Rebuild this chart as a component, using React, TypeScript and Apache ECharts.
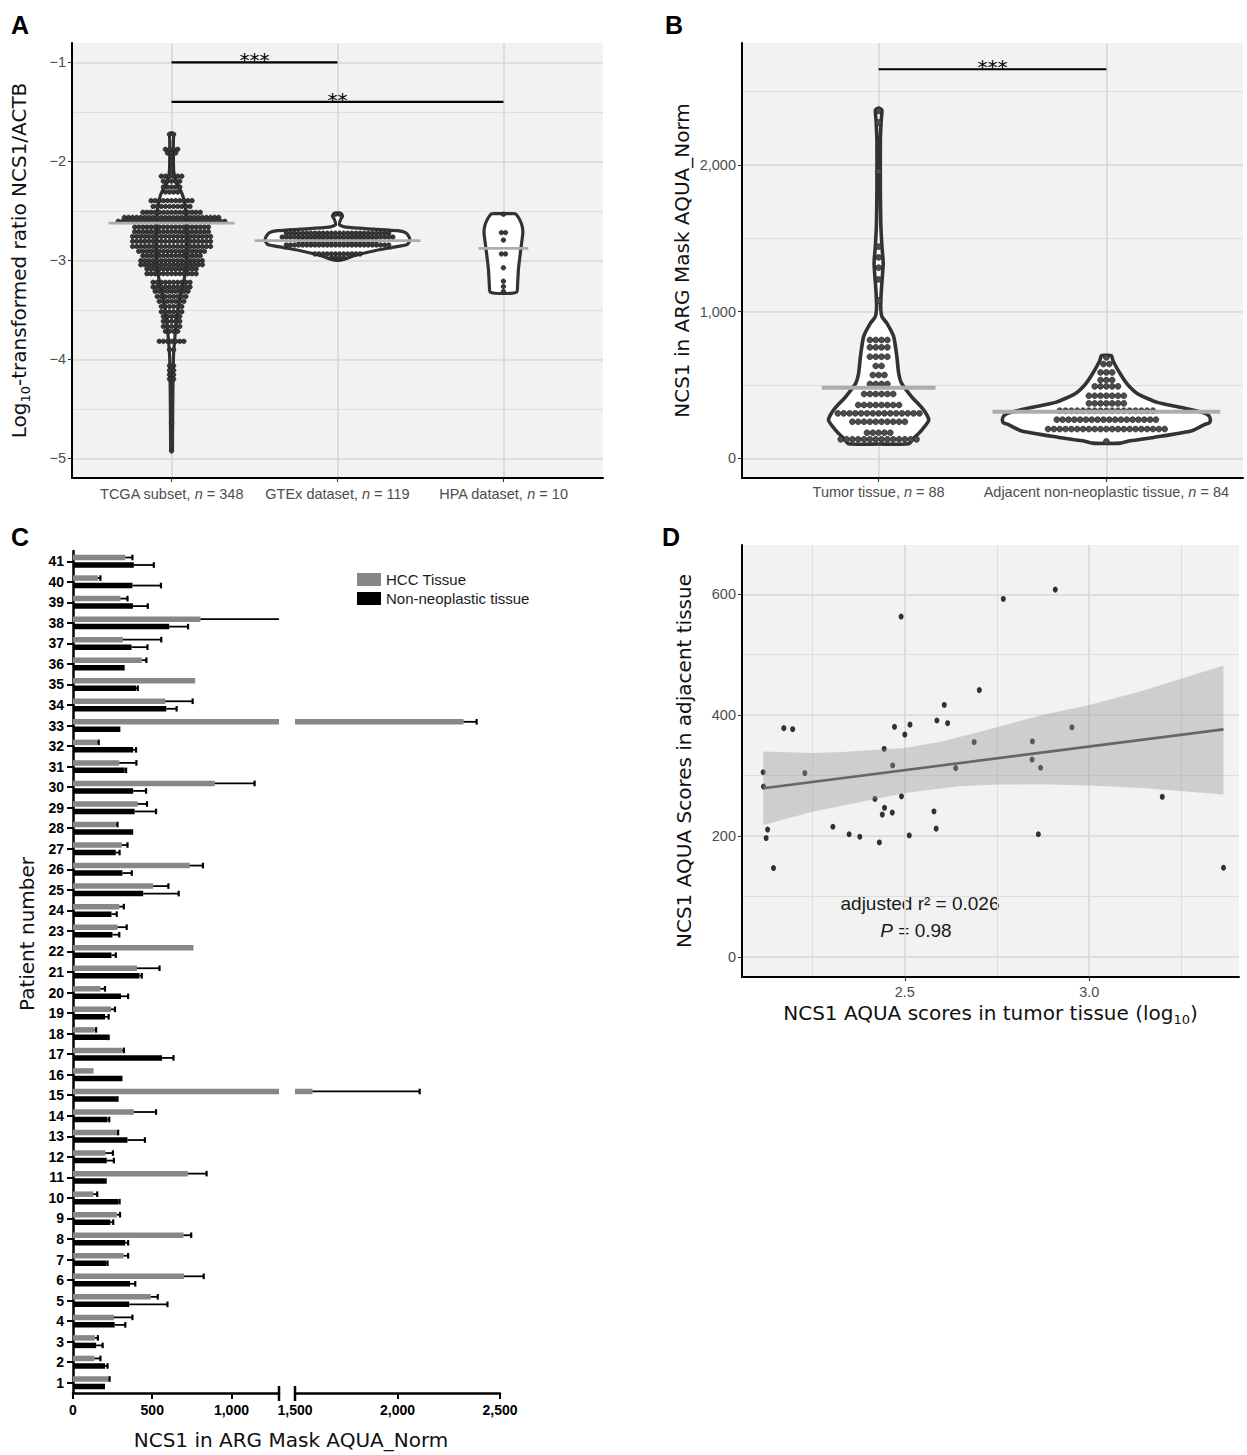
import React, { useEffect, useRef } from 'react';
import * as echarts from 'echarts';

// ===================== DATA =====================
// ---- Panel A (dot + violin) ----
const A_GROUPS = ['TCGA subset', 'GTEx dataset', 'HPA dataset'];
const A_N = [348, 119, 10];
const A_POS = [1, 2, 3];
const A_Y_TICKS = [-5, -4, -3, -2, -1];
// [value, number of stacked dots in that bin]
const A_TCGA_ROWS = [
  [-1.727, 2], [-1.879, 4], [-1.916, 3], [-1.956, 1], [-2.0, 1], [-2.05, 1], [-2.105, 1],
  [-2.15, 6], [-2.2, 5], [-2.26, 5], [-2.31, 4],
  [-2.397, 11], [-2.455, 10], [-2.515, 15], [-2.566, 24], [-2.606, 27], [-2.663, 19], [-2.71, 19],
  [-2.758, 20], [-2.808, 20], [-2.859, 20], [-2.909, 17], [-2.953, 15], [-3.003, 16], [-3.044, 16],
  [-3.088, 13], [-3.135, 13], [-3.222, 10], [-3.269, 10], [-3.313, 9], [-3.364, 8], [-3.414, 7],
  [-3.465, 6], [-3.519, 6], [-3.566, 5], [-3.616, 5], [-3.667, 5], [-3.717, 4], [-3.818, 7],
  [-3.902, 2], [-4.064, 2], [-4.111, 2], [-4.155, 2], [-4.199, 2], [-4.643, 1], [-4.923, 1],
];
const A_GTEX_ROWS = [
  [-2.534, 2], [-2.725, 26], [-2.765, 28], [-2.805, 20], [-2.845, 26], [-2.935, 12], [-2.975, 4],
];
const A_HPA_ROWS = [
  [-2.534, 1], [-2.72, 2], [-2.795, 1], [-2.935, 2], [-3.075, 1], [-3.21, 1], [-3.265, 1], [-3.315, 1],
];
const A_MEDIANS = [-2.625, -2.8, -2.88];
// violin outline: [value, half width in category units]
const A_VIOLIN_TCGA = [
  [-1.71, 0], [-1.725, 0.012], [-1.8, 0.011], [-1.95, 0.011], [-2.1, 0.013], [-2.2, 0.025], [-2.28, 0.05],
  [-2.35, 0.068], [-2.45, 0.082], [-2.6, 0.09], [-2.8, 0.093], [-3.0, 0.09], [-3.1, 0.084], [-3.2, 0.075],
  [-3.3, 0.06], [-3.4, 0.048], [-3.5, 0.039], [-3.6, 0.031], [-3.7, 0.024], [-3.8, 0.019], [-3.9, 0.014],
  [-4.0, 0.011], [-4.2, 0.009], [-4.5, 0.007], [-4.8, 0.006], [-4.915, 0.005], [-4.935, 0],
];
const A_VIOLIN_GTEX = [
  [-2.52, 0], [-2.53, 0.024], [-2.555, 0.03], [-2.59, 0.018], [-2.64, 0.012], [-2.665, 0.05],
  [-2.685, 0.22], [-2.7, 0.36], [-2.72, 0.41], [-2.76, 0.43], [-2.8, 0.435], [-2.84, 0.42],
  [-2.87, 0.33], [-2.9, 0.23], [-2.95, 0.105], [-2.985, 0.045], [-3.0, 0],
];
const A_VIOLIN_HPA = [
  [-2.53, 0], [-2.53, 0.07], [-2.58, 0.095], [-2.65, 0.112], [-2.72, 0.117], [-2.82, 0.11],
  [-2.95, 0.1], [-3.1, 0.09], [-3.25, 0.085], [-3.32, 0.08], [-3.335, 0],
];
const A_SIG_PAIRS = [[1, 2], [1, 3]];
const A_SIG_Y = [-1.0, -1.4];
const A_SIG_LABELS = ['***', '**'];

// ---- Panel B ----
const B_GROUPS = ['Tumor tissue', 'Adjacent non-neoplastic tissue'];
const B_N = [88, 84];
const B_POS = [1, 2];
const B_Y_TICKS = [0, 1000, 2000];
const B_TUMOR_ROWS = [
  [2368, 1], [2289, 1], [1957, 1], [1443, 1], [1370, 1], [1300, 1], [1220, 1], [1075, 1],
  [807, 4], [757, 4], [693, 4], [630, 2], [568, 3], [507, 4], [439, 6], [364, 8], [307, 15],
  [250, 10], [175, 5], [130, 14],
];
const B_ADJ_ROWS = [
  [688, 1], [643, 2], [586, 3], [534, 3], [491, 5], [427, 7], [375, 7], [325, 17], [264, 18],
  [200, 21], [116, 1],
];
const B_MEDIANS = [482, 318];
const B_VIOLIN_TUMOR = [
  [2388, 0], [2375, 0.014], [2300, 0.011], [2170, 0.0075], [1830, 0.0075], [1600, 0.0095],
  [1443, 0.0145], [1330, 0.02], [1148, 0.012], [1034, 0.009], [966, 0.0145], [920, 0.0365],
  [830, 0.066], [693, 0.08], [580, 0.088], [511, 0.101], [420, 0.145], [330, 0.198], [261, 0.22],
  [193, 0.189], [136, 0.154], [100, 0.132], [98, 0],
];
const B_VIOLIN_ADJ = [
  [702, 0], [700, 0.022], [666, 0.029], [575, 0.0615], [500, 0.095], [439, 0.139], [382, 0.223],
  [348, 0.325], [314, 0.42], [291, 0.45], [262, 0.457], [240, 0.45], [234, 0.435], [189, 0.376],
  [143, 0.207], [120, 0.105], [104, 0.0615], [102, 0],
];
const B_SIG_PAIRS = [[1, 2]];
const B_SIG_Y = [2652];
const B_SIG_LABELS = ['***'];

// ---- Panel C (patients 1..41, bottom to top) ----
const C_PATIENTS = ['1', '2', '3', '4', '5', '6', '7', '8', '9', '10', '11', '12', '13', '14', '15', '16',
  '17', '18', '19', '20', '21', '22', '23', '24', '25', '26', '27', '28', '29', '30', '31', '32', '33',
  '34', '35', '36', '37', '38', '39', '40', '41'];
const C_HCC = [225, 135, 139, 258, 490, 701, 319, 697, 276, 128, 724, 204, 281, 384, 1585, 130, 310,
  135, 240, 173, 404, 760, 281, 292, 506, 737, 308, 272, 409, 894, 292, 153, 2322, 582, 771, 434,
  315, 804, 299, 157, 330];
const C_HCC_ERR = [231, 173, 157, 375, 535, 825, 348, 746, 297, 153, 843, 252, 285, 524, 2108, 130,
  321, 146, 265, 202, 546, 760, 339, 321, 602, 820, 344, 281, 467, 1146, 400, 162, 2386, 755, 771,
  463, 557, 1350, 344, 173, 375];
const C_NON = [202, 202, 146, 263, 355, 360, 209, 330, 236, 285, 213, 213, 344, 218, 276, 312, 562,
  220, 202, 303, 420, 243, 249, 243, 443, 312, 270, 380, 389, 380, 326, 380, 299, 589, 398, 326,
  369, 607, 378, 375, 384];
const C_NON_ERR = [202, 218, 187, 330, 596, 393, 218, 348, 254, 294, 213, 258, 454, 229, 281, 312,
  634, 225, 225, 348, 434, 270, 292, 276, 667, 371, 294, 380, 524, 461, 335, 398, 299, 654, 409,
  326, 470, 726, 472, 555, 510];
const C_TICKS_LEFT = [0, 500, 1000];
const C_TICKS_RIGHT = [1500, 2000, 2500];
const C_BREAK = [1300, 1500];
const C_MAX = 2500;

// ---- Panel D ----
const D_X = [2.116, 2.117, 2.128, 2.124, 2.144, 2.172, 2.196, 2.229, 2.305, 2.349, 2.378, 2.419,
  2.431, 2.439, 2.445, 2.444, 2.466, 2.467, 2.472, 2.49, 2.491, 2.5, 2.512, 2.514, 2.579, 2.585,
  2.587, 2.607, 2.616, 2.638, 2.688, 2.702, 2.767, 2.846, 2.845, 2.862, 2.868, 2.908, 2.953, 3.198, 3.364];
const D_Y = [305.6, 282.0, 210.8, 196.8, 147.2, 378.6, 376.9, 304.3, 215.5, 203.1, 199.0, 261.6,
  189.6, 235.6, 246.8, 344.2, 239.0, 316.9, 380.8, 563.1, 265.8, 368.0, 201.1, 384.4, 240.8, 212.4,
  391.2, 417.0, 386.8, 312.6, 355.5, 441.5, 592.3, 356.6, 326.6, 203.1, 313.1, 607.7, 380.0, 265.0, 147.7];
const D_FIT = [[2.1165, 279.2], [3.364, 376.6]];
const D_BAND_UPPER = [[2.1165, 340], [2.25, 337.5], [2.33, 339], [2.5, 345.6], [2.6, 356.6],
  [2.751, 380.2], [2.873, 400.5], [3.0, 417], [3.145, 440.6], [3.364, 482]];
const D_BAND_LOWER = [[2.1165, 218.2], [2.25, 240.2], [2.5, 271.5], [2.645, 282.5], [2.751, 285.2],
  [2.873, 285.8], [3.0, 283.6], [3.145, 279.7], [3.364, 268.9]];
const D_X_TICKS = [2.5, 3.0];
const D_Y_TICKS = [0, 200, 400, 600];

// ===================== LAYOUT / STYLE =====================
const W = 1247;
const H = 1455;
const SANS = '"Liberation Sans", Arial, Helvetica, sans-serif';
const DEJAVU = '"DejaVu Sans", Verdana, sans-serif';
const PANEL_BG = '#f2f2f2';
const GRID_MAJOR = '#d9d9d9';
const GRID_MINOR = '#dedede';
const TICK_TEXT = '#4d4d4d';
const TITLE_COLOR = '#111111';

const GA = { left: 72, top: 43, width: 531, height: 435 };
const GB = { left: 742, top: 43, width: 501, height: 435 };
const GC1 = { left: 73, top: 551, width: 206, height: 842 };
const GC2 = { left: 295, top: 551, width: 205, height: 842 };
const GD = { left: 742, top: 545, width: 497, height: 432 };

const A_RANGE = [0.4, 3.6];
const A_YRANGE = [-5.198, -0.805];
const B_RANGE = [0.4, 2.6];
const B_YRANGE = [-133.5, 2831];
const D_XRANGE = [2.0586, 3.406];
const D_YRANGE = [-33, 681.5];

const A_DOT_STEP = 0.0247;
const B_DOT_STEP = 0.0256;
const A_MED_HALF = [0.38, 0.5, 0.15];
const B_MED_HALF = [0.25, 0.5];
const BAR_W = 5.5;
const BAR_OFF = 3.75;

function dotPoints(pos: number, rows: number[][], step: number) {
  const pts: number[][] = [];
  rows.forEach(([y, n]) => {
    for (let j = 0; j < n; j++) pts.push([pos + (j - (n - 1) / 2) * step, y]);
  });
  return pts;
}

const isMult = (v: number, m: number) => Math.abs(v / m - Math.round(v / m)) < 1e-6;

function violinSeries(xi: number, yi: number, positions: number[], profiles: number[][][], lw: number) {
  return {
    type: 'custom', xAxisIndex: xi, yAxisIndex: yi, z: 2, silent: true,
    data: positions.map((p, i) => [p, profiles[i][0][0]]),
    renderItem: (params: any, api: any) => {
      const pos = api.value(0);
      const prof = profiles[params.dataIndex];
      const pts: number[][] = [];
      prof.forEach(([y, hw]) => pts.push(api.coord([pos + hw, y])));
      for (let k = prof.length - 1; k >= 0; k--) {
        const [y, hw] = prof[k];
        if (hw > 0) pts.push(api.coord([pos - hw, y]));
      }
      return {
        type: 'polygon',
        shape: { points: pts, smooth: 0.2 },
        style: { fill: '#ffffff', stroke: '#333333', lineWidth: lw, lineJoin: 'round' },
      };
    },
  };
}

function dotSeries(xi: number, yi: number, positions: number[], rowsList: number[][][], step: number, size: number, fill: string) {
  const data: number[][] = [];
  rowsList.forEach((rows, i) => dotPoints(positions[i], rows, step).forEach((p) => data.push(p)));
  return {
    type: 'scatter', xAxisIndex: xi, yAxisIndex: yi, z: 3, silent: true,
    symbol: 'circle', symbolSize: size, data,
    itemStyle: { color: fill, borderColor: '#1a1a1a', borderWidth: 0.6, opacity: 1 },
    emphasis: { disabled: true },
  };
}

function medianSeries(xi: number, yi: number, positions: number[], medians: number[], halves: number[], lw: number) {
  return {
    type: 'custom', xAxisIndex: xi, yAxisIndex: yi, z: 4, silent: true,
    data: positions.map((p, i) => [p, medians[i]]),
    renderItem: (params: any, api: any) => {
      const p = api.value(0);
      const m = api.value(1);
      const h = halves[params.dataIndex];
      const a = api.coord([p - h, m]);
      const b = api.coord([p + h, m]);
      return { type: 'line', shape: { x1: a[0], y1: a[1], x2: b[0], y2: b[1] }, style: { stroke: '#adadad', lineWidth: lw } };
    },
  };
}

function sigSeries(xi: number, yi: number, pairs: number[][], ys: number[], labels: string[]) {
  return {
    type: 'custom', xAxisIndex: xi, yAxisIndex: yi, z: 5, silent: true,
    data: pairs.map((pr, i) => [pr[0], ys[i], pr[1]]),
    renderItem: (params: any, api: any) => {
      const a = api.coord([api.value(0), api.value(1)]);
      const b = api.coord([api.value(2), api.value(1)]);
      return {
        type: 'group',
        children: [
          { type: 'line', shape: { x1: a[0], y1: a[1], x2: b[0], y2: b[1] }, style: { stroke: '#000', lineWidth: 2.2 } },
          {
            type: 'text', x: (a[0] + b[0]) / 2, y: a[1] - 2,
            style: { text: labels[params.dataIndex], fontSize: 20, fontFamily: DEJAVU, fill: '#000', align: 'center', verticalAlign: 'middle' },
          },
        ],
      };
    },
  };
}

function errSeries(xi: number, yi: number, values: number[], errs: number[], offset: number) {
  return {
    type: 'custom', xAxisIndex: xi, yAxisIndex: yi, z: 4, silent: true,
    data: values.map((v, i) => [v, i, errs[i]]),
    renderItem: (params: any, api: any) => {
      const v = api.value(0);
      const i = api.value(1);
      const e = api.value(2);
      if (!(e > v)) return null;
      const cs = params.coordSys;
      const left = cs.x;
      const right = cs.x + cs.width;
      const base = api.coord([v, i]);
      const y = base[1] + offset;
      let x1 = base[0];
      let x2 = api.coord([e, i])[0];
      if (x2 <= left || x1 >= right) return null;
      let cap = true;
      if (x2 > right) { x2 = right; cap = false; }
      x1 = Math.max(x1, left);
      const children: any[] = [
        { type: 'line', shape: { x1, y1: y, x2, y2: y }, style: { stroke: '#000', lineWidth: 1.8 } },
      ];
      if (cap) children.push({ type: 'line', shape: { x1: x2, y1: y - 2.8, x2, y2: y + 2.8 }, style: { stroke: '#000', lineWidth: 2.2 } });
      return { type: 'group', children };
    },
  };
}

const gridBase = { containLabel: false, outerBoundsMode: 'none', borderWidth: 0 };
const axisLineBlack = (w: number) => ({ show: true, onZero: false, lineStyle: { color: '#000', width: w } });
const ggTick = (vals: number[]) => ({ show: true, customValues: vals, length: 4, lineStyle: { color: '#333', width: 1.1 } });
const ggLabel = { fontSize: 14.5, fontFamily: SANS, color: TICK_TEXT };
const majorSplit = { show: true, lineStyle: { color: GRID_MAJOR, width: 1.7 } };
const minorSplit = { show: true, showMinLine: false, showMaxLine: false, lineStyle: { color: GRID_MINOR, width: 1.1 } };
const titleStyle = { fontSize: 20, fontFamily: DEJAVU, color: TITLE_COLOR };
const richTitle = {
  m: { fontSize: 20, fontFamily: DEJAVU, color: TITLE_COLOR, padding: [0, 0, 3, 0] },
  s: { fontSize: 13, fontFamily: DEJAVU, color: TITLE_COLOR, verticalAlign: 'bottom' },
};
const minorAxis = (grid: number, range: number[], interval: number) => ({
  gridIndex: grid, type: 'value', min: range[0], max: range[1], minInterval: interval, maxInterval: interval,
  axisLine: { show: false }, axisTick: { show: false }, axisLabel: { show: false }, splitLine: minorSplit,
});
const commaFmt = (v: number) => Math.round(v).toLocaleString('en-US');

function buildOption(): any {
  const catLabel = (groups: string[], ns: number[], positions: number[]) => (v: number) => {
    const i = positions.indexOf(Math.round(v));
    if (i < 0 || Math.abs(v - Math.round(v)) > 1e-6) return '';
    return `{t|${groups[i]}, }{i|n}{t| = ${ns[i]}}`;
  };
  const catRich = {
    t: { fontSize: 14.5, fontFamily: SANS, color: TICK_TEXT },
    i: { fontSize: 14.5, fontFamily: SANS, color: TICK_TEXT, fontStyle: 'italic' },
  };
  const cBarLabel = { fontSize: 14, fontWeight: 'bold', fontFamily: SANS, color: '#000' };

  return {
    animation: false,
    backgroundColor: '#ffffff',
    textStyle: { fontFamily: SANS },
    grid: [
      { ...gridBase, ...GA, show: true, backgroundColor: PANEL_BG },
      { ...gridBase, ...GB, show: true, backgroundColor: PANEL_BG },
      { ...gridBase, ...GC1, show: false },
      { ...gridBase, ...GC2, show: false },
      { ...gridBase, ...GD, show: true, backgroundColor: PANEL_BG },
    ],
    legend: {
      show: true, orient: 'vertical', left: 352, top: 567, itemWidth: 24, itemHeight: 13, itemGap: 4,
      icon: 'rect', selectedMode: false,
      data: ['HCC Tissue', 'Non-neoplastic tissue'],
      textStyle: { fontSize: 15, fontFamily: SANS, color: '#1a1a1a' },
    },
    xAxis: [
      { // 0: A
        gridIndex: 0, type: 'value', min: A_RANGE[0], max: A_RANGE[1], minInterval: 1, maxInterval: 1,
        axisLine: axisLineBlack(2), axisTick: ggTick(A_POS),
        axisLabel: { ...ggLabel, customValues: A_POS, margin: 8, formatter: catLabel(A_GROUPS, A_N, A_POS), rich: catRich },
        splitLine: majorSplit,
      },
      { // 1: B
        gridIndex: 1, type: 'value', min: B_RANGE[0], max: B_RANGE[1], minInterval: 1, maxInterval: 1,
        axisLine: axisLineBlack(2), axisTick: ggTick(B_POS),
        axisLabel: { ...ggLabel, customValues: B_POS, margin: 6, formatter: catLabel(B_GROUPS, B_N, B_POS), rich: catRich },
        splitLine: majorSplit,
      },
      { // 2: C left
        gridIndex: 2, type: 'value', min: 0, max: C_BREAK[0], interval: 500,
        axisLine: axisLineBlack(2.5),
        axisTick: { show: true, customValues: C_TICKS_LEFT, length: 6, lineStyle: { color: '#000', width: 2 } },
        axisLabel: { ...cBarLabel, customValues: C_TICKS_LEFT, margin: 10, formatter: (v: number) => (isMult(v, 500) ? commaFmt(v) : '') },
        splitLine: { show: false },
      },
      { // 3: C right
        gridIndex: 3, type: 'value', min: C_BREAK[1], max: C_MAX, interval: 500,
        axisLine: axisLineBlack(2.5),
        axisTick: { show: true, customValues: C_TICKS_RIGHT, length: 6, lineStyle: { color: '#000', width: 2 } },
        axisLabel: { ...cBarLabel, customValues: C_TICKS_RIGHT, margin: 10, formatter: (v: number) => (isMult(v, 500) ? commaFmt(v) : '') },
        splitLine: { show: false },
      },
      { // 4: D major
        gridIndex: 4, type: 'value', min: D_XRANGE[0], max: D_XRANGE[1], minInterval: 0.5, maxInterval: 0.5,
        name: '{m|NCS1 AQUA scores in tumor tissue (log}{s|10}{m|)}', nameLocation: 'middle', nameGap: 26,
        nameTextStyle: { ...titleStyle, rich: richTitle },
        axisLine: axisLineBlack(2), axisTick: ggTick(D_X_TICKS),
        axisLabel: { ...ggLabel, customValues: D_X_TICKS, margin: 7, formatter: (v: number) => (isMult(v, 0.5) ? v.toFixed(1) : '') },
        splitLine: majorSplit,
      },
      { ...minorAxis(4, D_XRANGE, 0.25) }, // 5: D minor
    ],
    yAxis: [
      { // 0: A major
        gridIndex: 0, type: 'value', min: A_YRANGE[0], max: A_YRANGE[1], minInterval: 1, maxInterval: 1,
        name: '{m|Log}{s|10}{m|-transformed ratio NCS1/ACTB}', nameLocation: 'middle', nameGap: 40,
        nameTextStyle: { ...titleStyle, rich: richTitle },
        axisLine: axisLineBlack(2), axisTick: ggTick(A_Y_TICKS),
        axisLabel: { ...ggLabel, customValues: A_Y_TICKS, margin: 6, formatter: (v: number) => (isMult(v, 1) ? (v < 0 ? '\u2212' + Math.abs(Math.round(v)) : String(Math.round(v))) : '') },
        splitLine: majorSplit,
      },
      { ...minorAxis(0, A_YRANGE, 0.5) }, // 1: A minor
      { // 2: B major
        gridIndex: 1, type: 'value', min: B_YRANGE[0], max: B_YRANGE[1], minInterval: 1000, maxInterval: 1000,
        name: 'NCS1 in ARG Mask AQUA_Norm', nameLocation: 'middle', nameGap: 50, nameTextStyle: titleStyle,
        axisLine: axisLineBlack(2), axisTick: ggTick(B_Y_TICKS),
        axisLabel: { ...ggLabel, customValues: B_Y_TICKS, margin: 6, formatter: (v: number) => (isMult(v, 1000) ? commaFmt(v) : '') },
        splitLine: majorSplit,
      },
      { ...minorAxis(1, B_YRANGE, 500) }, // 3: B minor
      { // 4: C left category
        gridIndex: 2, type: 'category', data: C_PATIENTS,
        axisLine: { show: true, onZero: false, lineStyle: { color: '#000', width: 2.5 } },
        axisTick: { show: true, alignWithLabel: true, length: 6, lineStyle: { color: '#000', width: 2 } },
        axisLabel: { ...cBarLabel, interval: 0, margin: 9 },
        splitLine: { show: false },
      },
      { // 5: C right category (hidden)
        gridIndex: 3, type: 'category', data: C_PATIENTS, show: false,
      },
      { // 6: D major
        gridIndex: 4, type: 'value', min: D_YRANGE[0], max: D_YRANGE[1], minInterval: 200, maxInterval: 200,
        name: 'NCS1 AQUA Scores in adjacent tissue', nameLocation: 'middle', nameGap: 48, nameTextStyle: titleStyle,
        axisLine: axisLineBlack(2), axisTick: ggTick(D_Y_TICKS),
        axisLabel: { ...ggLabel, customValues: D_Y_TICKS, margin: 6, formatter: (v: number) => (isMult(v, 200) ? String(Math.round(v)) : '') },
        splitLine: majorSplit,
      },
      { ...minorAxis(4, D_YRANGE, 100) }, // 7: D minor
    ],
    series: [
      // ---- A ----
      violinSeries(0, 0, A_POS, [A_VIOLIN_TCGA, A_VIOLIN_GTEX, A_VIOLIN_HPA], 3.2),
      dotSeries(0, 0, A_POS, [A_TCGA_ROWS, A_GTEX_ROWS, A_HPA_ROWS], A_DOT_STEP, 4.6, '#383838'),
      medianSeries(0, 0, A_POS, A_MEDIANS, A_MED_HALF, 2.8),
      sigSeries(0, 0, A_SIG_PAIRS, A_SIG_Y, A_SIG_LABELS),
      // ---- B ----
      violinSeries(1, 2, B_POS, [B_VIOLIN_TUMOR, B_VIOLIN_ADJ], 3.6),
      dotSeries(1, 2, B_POS, [B_TUMOR_ROWS, B_ADJ_ROWS], B_DOT_STEP, 5.9, '#4d4d4d'),
      medianSeries(1, 2, B_POS, B_MEDIANS, B_MED_HALF, 4),
      sigSeries(1, 2, B_SIG_PAIRS, B_SIG_Y, B_SIG_LABELS),
      // ---- C left ----
      { type: 'bar', name: 'HCC Tissue', xAxisIndex: 2, yAxisIndex: 4, data: C_HCC, barWidth: BAR_W, barGap: '36%', clip: true, silent: true, itemStyle: { color: '#878787' } },
      { type: 'bar', name: 'Non-neoplastic tissue', xAxisIndex: 2, yAxisIndex: 4, data: C_NON, barWidth: BAR_W, barGap: '36%', clip: true, silent: true, itemStyle: { color: '#000000' } },
      errSeries(2, 4, C_HCC, C_HCC_ERR, -BAR_OFF),
      errSeries(2, 4, C_NON, C_NON_ERR, BAR_OFF),
      // ---- C right ----
      { type: 'bar', name: 'HCC Tissue', xAxisIndex: 3, yAxisIndex: 5, data: C_HCC, barWidth: BAR_W, barGap: '36%', clip: true, silent: true, itemStyle: { color: '#878787' } },
      { type: 'bar', name: 'Non-neoplastic tissue', xAxisIndex: 3, yAxisIndex: 5, data: C_NON, barWidth: BAR_W, barGap: '36%', clip: true, silent: true, itemStyle: { color: '#000000' } },
      errSeries(3, 5, C_HCC, C_HCC_ERR, -BAR_OFF),
      errSeries(3, 5, C_NON, C_NON_ERR, BAR_OFF),
      // ---- D ----
      {
        type: 'scatter', xAxisIndex: 4, yAxisIndex: 6, z: 2, silent: true, symbol: 'circle', symbolSize: [5, 6],
        data: D_X.map((x, i) => [x, D_Y[i]]), itemStyle: { color: '#000' }, emphasis: { disabled: true },
      },
      {
        type: 'custom', xAxisIndex: 4, yAxisIndex: 6, z: 3, silent: true,
        data: [D_BAND_UPPER[0]],
        renderItem: (_p: any, api: any) => {
          const pts = D_BAND_UPPER.map((p) => api.coord(p)).concat(D_BAND_LOWER.slice().reverse().map((p) => api.coord(p)));
          return { type: 'polygon', shape: { points: pts }, style: { fill: 'rgba(153,153,153,0.4)' } };
        },
      },
      {
        type: 'line', xAxisIndex: 4, yAxisIndex: 6, z: 4, silent: true, symbol: 'none', data: D_FIT,
        lineStyle: { color: '#666666', width: 2.6 },
      },
    ],
    graphic: [
      { type: 'text', x: 11, y: 25, style: { text: 'A', fontSize: 25, fontWeight: 'bold', fontFamily: SANS, fill: '#000', align: 'left', verticalAlign: 'middle' } },
      { type: 'text', x: 665, y: 25, style: { text: 'B', fontSize: 25, fontWeight: 'bold', fontFamily: SANS, fill: '#000', align: 'left', verticalAlign: 'middle' } },
      { type: 'text', x: 11, y: 537, style: { text: 'C', fontSize: 25, fontWeight: 'bold', fontFamily: SANS, fill: '#000', align: 'left', verticalAlign: 'middle' } },
      { type: 'text', x: 662, y: 537, style: { text: 'D', fontSize: 25, fontWeight: 'bold', fontFamily: SANS, fill: '#000', align: 'left', verticalAlign: 'middle' } },
      { type: 'text', x: 291, y: 1440, style: { text: 'NCS1 in ARG Mask AQUA_Norm', fontSize: 20, fontFamily: DEJAVU, fill: TITLE_COLOR, align: 'center', verticalAlign: 'middle' } },
      { type: 'text', x: 27, y: 934, rotation: Math.PI / 2, style: { text: 'Patient number', fontSize: 20, fontFamily: DEJAVU, fill: TITLE_COLOR, align: 'center', verticalAlign: 'middle' } },
      { type: 'line', shape: { x1: GC1.left + GC1.width, y1: GC1.top + GC1.height - 7, x2: GC1.left + GC1.width, y2: GC1.top + GC1.height + 8 }, style: { stroke: '#000', lineWidth: 2.5 } },
      { type: 'line', shape: { x1: GC2.left, y1: GC2.top + GC2.height - 7, x2: GC2.left, y2: GC2.top + GC2.height + 8 }, style: { stroke: '#000', lineWidth: 2.5 } },
      { type: 'text', x: 920, y: 903, style: { text: 'adjusted r\u00B2 = 0.026', fontSize: 19, fontFamily: SANS, fill: '#1a1a1a', align: 'center', verticalAlign: 'middle' } },
      {
        type: 'text', x: 916, y: 930,
        style: {
          text: '{i|P}{t| = 0.98}', fontSize: 19, fontFamily: SANS, fill: '#1a1a1a', align: 'center', verticalAlign: 'middle',
          rich: { i: { fontSize: 19, fontFamily: SANS, fontStyle: 'italic', fill: '#1a1a1a' }, t: { fontSize: 19, fontFamily: SANS, fill: '#1a1a1a' } },
        },
      },
    ],
  };
}

export default function App() {
  const ref = useRef<HTMLDivElement>(null);
  useEffect(() => {
    if (!ref.current) return;
    const chart = echarts.init(ref.current, null, { renderer: 'svg', width: W, height: H });
    chart.setOption(buildOption());
    return () => chart.dispose();
  }, []);
  return <div ref={ref} style={{ position: 'absolute', left: 0, top: 0, width: W, height: H, background: '#ffffff' }} />;
}
